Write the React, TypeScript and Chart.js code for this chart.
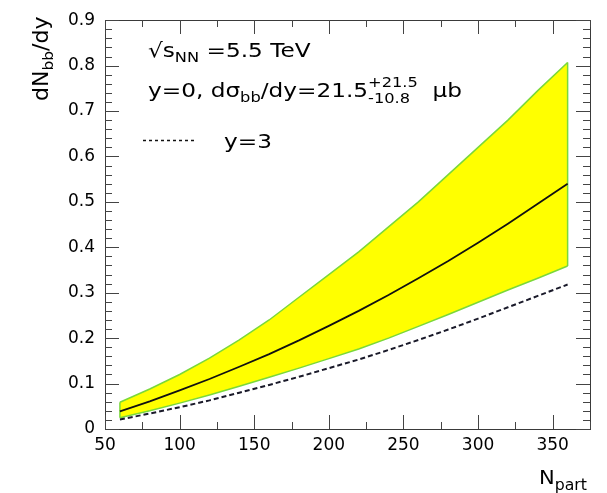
import React, { useEffect, useRef } from "react";
import { Chart, registerables } from "chart.js";

Chart.register(...registerables);

// ---- data ----
const nPart = [60, 80, 100, 120, 140, 160, 180, 200, 220, 240, 260, 280, 300, 320, 340, 360];
const upperY0 = [0.059, 0.088, 0.12, 0.156, 0.196, 0.24, 0.29, 0.34, 0.39, 0.445, 0.5, 0.56, 0.62, 0.68, 0.745, 0.807];
const centralY0 = [0.039, 0.061, 0.085, 0.11, 0.137, 0.165, 0.195, 0.227, 0.26, 0.295, 0.332, 0.37, 0.41, 0.452, 0.496, 0.54];
const lowerY0 = [0.025, 0.04, 0.057, 0.075, 0.094, 0.114, 0.134, 0.155, 0.176, 0.2, 0.226, 0.252, 0.279, 0.306, 0.332, 0.359];
const centralY3 = [0.021, 0.034, 0.048, 0.063, 0.08, 0.097, 0.115, 0.134, 0.153, 0.174, 0.196, 0.219, 0.243, 0.268, 0.293, 0.318];

const xTickValues = [50, 100, 150, 200, 250, 300, 350];
const yTickValues = [0, 0.1, 0.2, 0.3, 0.4, 0.5, 0.6, 0.7, 0.8, 0.9];
const xMin = 50, xMax = 375, yMin = 0, yMax = 0.9;
const xMinorStep = 25;
const yMinorStep = 0.02;

const FONT = "'DejaVu Sans', 'Liberation Sans', Arial, sans-serif";

const pts = (ys: number[]) => nPart.map((x, i) => ({ x, y: ys[i] }));

type Part = { t: string; s?: number; dy?: number; stack?: [string, string] };

function drawRich(ctx: CanvasRenderingContext2D, x0: number, y0: number, parts: Part[], size: number, sx = 1) {
  ctx.save();
  ctx.translate(x0, y0);
  ctx.scale(sx, 1);
  let x = 0;
  for (const p of parts) {
    const fs = size * (p.s ?? 1);
    ctx.font = `${fs}px ${FONT}`;
    if (p.stack) {
      const w1 = ctx.measureText(p.stack[0]).width;
      const w2 = ctx.measureText(p.stack[1]).width;
      ctx.fillText(p.stack[0], x, -size * 0.5);
      ctx.fillText(p.stack[1], x, size * 0.3);
      x += Math.max(w1, w2);
    } else {
      ctx.fillText(p.t, x, p.dy ?? 0);
      x += ctx.measureText(p.t).width;
    }
  }
  ctx.restore();
  return x * sx;
}

function drawFrameAndTicks(chart: any, ctx: CanvasRenderingContext2D) {
  const ca = chart.chartArea;
  const left = Math.round(ca.left), right = Math.round(ca.right);
  const top = Math.round(ca.top), bottom = Math.round(ca.bottom);
  const xs = chart.scales.x;
  const ys = chart.scales.y;
  ctx.save();
  ctx.setLineDash([]);
  ctx.globalAlpha = 1;
  ctx.fillStyle = "#3a3a3a";
  ctx.fillRect(left, top, right - left + 1, 1);
  ctx.fillRect(left, bottom, right - left + 1, 1);
  ctx.fillRect(left, top, 1, bottom - top + 1);
  ctx.fillRect(right, top, 1, bottom - top + 1);
  const MAJ = 14, MIN = 7;
  ctx.fillStyle = "#444";
  const nx = Math.round((xMax - xMin) / xMinorStep);
  for (let k = 0; k <= nx; k++) {
    const v = xMin + k * xMinorStep;
    const px = Math.round(xs.getPixelForValue(v));
    const len = k % 2 === 0 ? MAJ : MIN;
    ctx.fillRect(px, bottom - len, 1, len);
    ctx.fillRect(px, top, 1, len);
  }
  const ny = Math.round((yMax - yMin) / yMinorStep);
  for (let k = 0; k <= ny; k++) {
    const v = yMin + k * yMinorStep;
    const py = Math.round(ys.getPixelForValue(v));
    const len = k % 5 === 0 ? MAJ : MIN;
    ctx.fillRect(left, py, len, 1);
    ctx.fillRect(right - len, py, len, 1);
  }
  ctx.restore();
}

function drawTexts(ctx: CanvasRenderingContext2D) {
  ctx.save();
  ctx.fillStyle = "#000";
  ctx.textBaseline = "alphabetic";
  ctx.textAlign = "left";
  drawRich(ctx, 148, 57, [
    { t: "\u221As" },
    { t: "NN", s: 0.7, dy: 5 },
    { t: " =5.5 TeV" },
  ], 20, 1.16);
  drawRich(ctx, 148, 97, [
    { t: "y=0, d\u03C3" },
    { t: "bb", s: 0.7, dy: 5 },
    { t: "/dy=21.5" },
    { t: "", s: 0.7, stack: ["+21.5", "-10.8"] },
    { t: "  \u03BCb" },
  ], 20, 1.16);
  ctx.strokeStyle = "#111";
  ctx.lineWidth = 1.5;
  ctx.setLineDash([3, 3]);
  ctx.beginPath();
  ctx.moveTo(143, 140.5);
  ctx.lineTo(197, 140.5);
  ctx.stroke();
  ctx.setLineDash([]);
  drawRich(ctx, 224, 148, [{ t: "y=3" }], 20, 1.16);
  drawRich(ctx, 539, 484, [{ t: "N" }, { t: "part", s: 0.75, dy: 6 }], 20, 1.05);
  ctx.translate(48, 101);
  ctx.rotate(-Math.PI / 2);
  drawRich(ctx, 0, 0, [{ t: "dN" }, { t: "bb", s: 0.7, dy: 5 }, { t: "/dy" }], 21, 1.05);
  ctx.restore();
}

export default function App() {
  const ref = useRef<HTMLCanvasElement | null>(null);
  const overlayRef = useRef<HTMLCanvasElement | null>(null);
  useEffect(() => {
    if (!ref.current) return;
    const green = "#7ad83a";
    const decorPlugin = {
      id: "decor",
      afterDraw(chart: any) {
        drawFrameAndTicks(chart, chart.ctx);
        drawTexts(chart.ctx);
        const ov = overlayRef.current;
        if (ov) {
          const octx = ov.getContext("2d");
          if (octx) {
            octx.clearRect(0, 0, ov.width, ov.height);
            drawFrameAndTicks(chart, octx);
          }
        }
      },
    };
    const chart = new Chart(ref.current, {
      type: "line",
      data: {
        datasets: [
          { label: "upper", data: pts(upperY0), borderColor: green, borderWidth: 1.5, backgroundColor: "#ffff00", fill: "+1", pointRadius: 0, tension: 0, order: 3 } as any,
          { label: "lower", data: pts(lowerY0), borderColor: green, borderWidth: 1.5, fill: false, pointRadius: 0, tension: 0, order: 2 },
          { label: "edgeL", data: [{ x: nPart[0], y: lowerY0[0] }, { x: nPart[0], y: upperY0[0] }], borderColor: green, borderWidth: 1.5, fill: false, pointRadius: 0, order: 2 },
          { label: "edgeR", data: [{ x: nPart[nPart.length - 1], y: lowerY0[lowerY0.length - 1] }, { x: nPart[nPart.length - 1], y: upperY0[upperY0.length - 1] }], borderColor: green, borderWidth: 1.5, fill: false, pointRadius: 0, order: 2 },
          { label: "y=0", data: pts(centralY0), borderColor: "#111", borderWidth: 1.8, fill: false, pointRadius: 0, tension: 0, order: 0 },
          { label: "y=3", data: pts(centralY3), borderColor: "#1a1a2a", borderWidth: 2, borderDash: [5, 3], fill: false, pointRadius: 0, tension: 0, order: 0 },
        ],
      },
      options: {
        animation: false,
        responsive: false,
        maintainAspectRatio: false,
        layout: { padding: { top: 15, right: 17, left: 0, bottom: 0 } },
        plugins: { legend: { display: false }, tooltip: { enabled: false } },
        scales: {
          x: {
            type: "linear", min: xMin, max: xMax,
            grid: { display: false, drawTicks: false }, border: { display: false },
            ticks: { color: "#000", font: { family: FONT, size: 17 }, padding: 6, maxRotation: 0, autoSkip: false },
            afterBuildTicks: (s: any) => { s.ticks = xTickValues.map((v) => ({ value: v })); },
            afterFit: (s: any) => { s.height = 64; },
          },
          y: {
            type: "linear", min: yMin, max: yMax,
            grid: { display: false, drawTicks: false }, border: { display: false },
            ticks: { color: "#000", font: { family: FONT, size: 17 }, padding: 10, autoSkip: false, callback: (v: any) => (Number(v) === 0 ? "0" : Number(v).toFixed(1)) },
            afterBuildTicks: (s: any) => { s.ticks = yTickValues.map((v) => ({ value: v })); },
            afterFit: (s: any) => { s.width = 105; },
          },
        },
      },
      plugins: [decorPlugin],
    });
    return () => chart.destroy();
  }, []);
  return (
    <div style={{ position: "fixed", left: 0, top: 0, width: 607, height: 493, background: "#fff" }}>
      <canvas ref={ref} width={607} height={493} style={{ display: "block", position: "absolute", left: 0, top: 0 }} />
      <canvas ref={overlayRef} width={607} height={493} style={{ display: "block", position: "absolute", left: 0, top: 0, pointerEvents: "none" }} />
    </div>
  );
}
